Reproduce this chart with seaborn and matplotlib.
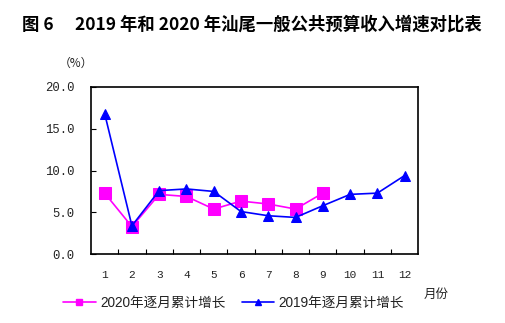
import numpy as np
import pandas as pd
import matplotlib
matplotlib.use("Agg")
import matplotlib.pyplot as plt
import seaborn as sns
from matplotlib.lines import Line2D

months = list(range(1, 13))
month_labels = [str(m) for m in months]
growth_2020 = [7.3, 3.3, 7.15, 6.9, 5.4, 6.35, 6.0, 5.4, 7.3, np.nan, np.nan, np.nan]
growth_2019 = [16.8, 3.4, 7.6, 7.8, 7.5, 5.1, 4.6, 4.4, 5.8, 7.15, 7.3, 9.4]
ytick_vals = [0, 5, 10, 15, 20]
ytick_labels = ["0.0", "5.0", "10.0", "15.0", "20.0"]
series_names = ["2020年逐月累计增长", "2019年逐月累计增长"]
title = "图 6\u2003 2019 年和 2020 年汕尾一般公共预算收入增速对比表"

sns.set_theme(style="white")
plt.rcParams['font.family'] = ['Noto Sans CJK SC', 'DejaVu Sans']

df = pd.DataFrame({
    "month": months * 2,
    "value": growth_2020 + growth_2019,
    "series": [series_names[0]] * 12 + [series_names[1]] * 12,
})

fig = plt.figure(figsize=(5.05, 3.23), dpi=100)
ax = fig.add_axes([91 / 505, 1 - 254.3 / 323, (418.3 - 91) / 505, (254.3 - 86.7) / 323])

pink = "#FF00FF"
blue = "#0000FF"
txt = "#222222"
sns.lineplot(data=df[df.series == series_names[0]], x="month", y="value", ax=ax,
             color=pink, marker="s", markersize=9, linewidth=1.2,
             markeredgecolor=pink, legend=False)
sns.lineplot(data=df[df.series == series_names[1]], x="month", y="value", ax=ax,
             color=blue, marker="^", markersize=7.5, linewidth=1.2,
             markeredgecolor=blue, legend=False)

ax.set_xlim(0.5, 12.5)
ax.set_ylim(0, 20)
ax.set_xticks(months)
ax.set_xticklabels(month_labels, family="Liberation Mono", fontsize=8, color=txt)
ax.set_xticks([m + 0.5 for m in months[:-1]], minor=True)
ax.tick_params(axis="x", which="major", length=0, pad=11)
ax.tick_params(axis="x", which="minor", direction="in", length=3.5, width=0.8, color="black", bottom=True)
ax.set_yticks(ytick_vals)
ax.set_yticklabels(ytick_labels, family="Liberation Mono", fontsize=8.8, color=txt)
ax.tick_params(axis="y", which="major", direction="in", length=3.5, width=0.8, color="black", left=True, pad=12)
ax.set_xlabel("")
ax.set_ylabel("")
for s in ax.spines.values():
    s.set_visible(True)
    s.set_color("black")
    s.set_linewidth(1.2)

fig.text(22 / 505, 1 - 25 / 323, title, fontsize=12.5, fontweight="bold", ha="left", va="center", color="black")
fig.text(76 / 505, 1 - 63 / 323, "（%）", fontsize=8.5, ha="center", va="center", color=txt)
fig.text(436.5 / 505, 1 - 294 / 323, "月份", fontsize=9, ha="center", va="center", color=txt)

handles = [
    Line2D([], [], color=pink, marker="s", markersize=4.5, linewidth=1.2),
    Line2D([], [], color=blue, marker="^", markersize=4.5, linewidth=1.2),
]
leg = fig.legend(handles, series_names, loc="center", bbox_to_anchor=(233.5 / 505, 1 - 303 / 323),
                 ncol=2, frameon=False, handlelength=2.4, columnspacing=1.2,
                 handletextpad=0.3, prop={"family": ["Liberation Sans", "Noto Sans CJK SC"], "size": 9.8})
for t in leg.get_texts():
    t.set_color(txt)

fig.savefig("out.png", dpi=100)
